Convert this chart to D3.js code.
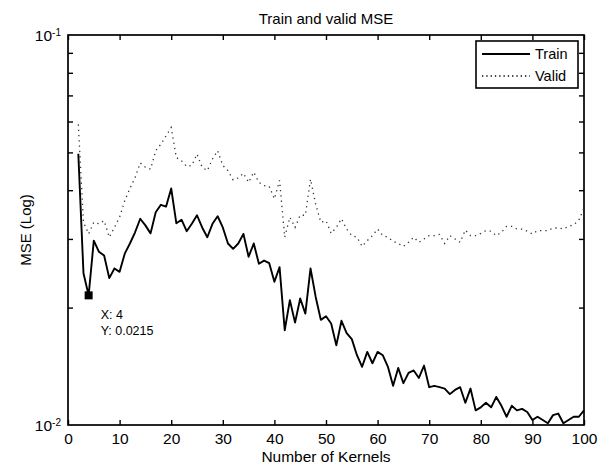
<!DOCTYPE html>
<html>
<head>
<meta charset="utf-8">
<script src="https://cdn.jsdelivr.net/npm/d3@7"></script>
<style>
  body { margin: 0; background: #fff; }
  svg { display: block; }
  text { font-family: "Liberation Sans", Arial, sans-serif; fill: #000; }
</style>
</head>
<body>
<svg></svg>
<script>
let width = 604, height = 464;

// number of kernels (x)
var kernels = [2,3,4,5,6,7,8,9,10,11,12,13,14,15,16,17,18,19,20,21,22,23,24,25,26,27,28,29,30,
  31,32,33,34,35,36,37,38,39,40,41,42,43,44,45,46,47,48,49,50,51,52,53,54,55,56,57,58,59,60,
  61,62,63,64,65,66,67,68,69,70,71,72,73,74,75,76,77,78,79,80,81,82,83,84,85,86,87,88,89,90,
  91,92,93,94,95,96,97,98,99,100];

var trainMSE = [0.0496,0.0245,0.0215,0.0297,0.0278,0.0272,0.0238,0.0252,0.0247,0.0275,
  0.0292,0.0312,0.0338,0.0325,0.0310,0.0351,0.0367,0.0363,0.0404,0.0329,
  0.0336,0.0314,0.0328,0.0345,0.0321,0.0303,0.0328,0.0343,0.0321,0.0292,
  0.0283,0.0292,0.0309,0.0270,0.0292,0.0259,0.0264,0.0260,0.0233,0.0254,
  0.0175,0.0209,0.0183,0.0211,0.0193,0.0252,0.0213,0.0186,0.0190,0.0182,
  0.0160,0.0185,0.0172,0.0166,0.0151,0.0141,0.0154,0.0144,0.0154,0.0151,
  0.0141,0.0126,0.0140,0.0128,0.0136,0.0138,0.0132,0.0142,0.0125,0.0126,
  0.0125,0.0124,0.0120,0.0123,0.0125,0.0114,0.0124,0.0109,0.0111,0.0114,
  0.0111,0.0118,0.0112,0.0105,0.0112,0.0109,0.0110,0.0108,0.0103,0.0105,
  0.0103,0.0101,0.0106,0.0107,0.0101,0.0103,0.0105,0.0105,0.0109];

var validMSE = [0.0590,0.0331,0.0309,0.0331,0.0328,0.0334,0.0303,0.0321,0.0341,0.0376,
  0.0404,0.0431,0.0470,0.0458,0.0453,0.0505,0.0525,0.0551,0.0579,0.0485,
  0.0476,0.0460,0.0463,0.0495,0.0458,0.0449,0.0481,0.0505,0.0463,0.0449,
  0.0425,0.0430,0.0442,0.0419,0.0445,0.0419,0.0411,0.0409,0.0380,0.0424,
  0.0303,0.0341,0.0321,0.0345,0.0345,0.0427,0.0368,0.0331,0.0334,0.0310,
  0.0321,0.0338,0.0318,0.0306,0.0303,0.0287,0.0297,0.0306,0.0318,0.0306,
  0.0303,0.0296,0.0292,0.0287,0.0294,0.0303,0.0294,0.0300,0.0306,0.0306,
  0.0308,0.0292,0.0306,0.0300,0.0294,0.0316,0.0306,0.0306,0.0310,0.0315,
  0.0314,0.0306,0.0312,0.0323,0.0323,0.0318,0.0318,0.0314,0.0309,0.0315,
  0.0315,0.0315,0.0320,0.0320,0.0318,0.0323,0.0326,0.0335,0.0360];

var xTicks = [0,10,20,30,40,50,60,70,80,90,100];
var yMinorTicks = [0.02,0.03,0.04,0.05,0.06,0.07,0.08,0.09];
var yMajorTicks = [0.01, 0.1];
var yMajorExp = ["-2", "-1"];

var tipX = 4, tipY = 0.0215;

let svg = d3.select("svg")
  .attr("width", width)
  .attr("height", height);

let mLeft = 68, mRight = 584, mTop = 35, mBottom = 425;

var x = d3.scaleLinear().domain([0, 100]).range([mLeft, mRight]);
var y = d3.scaleLog().domain([0.01, 0.1]).range([mBottom, mTop]);

// bottom axis
svg.append("g")
  .attr("transform", "translate(0," + mBottom + ")")
  .call(d3.axisBottom(x).tickValues(xTicks).tickSizeInner(-5).tickSizeOuter(0).tickPadding(8))
  .call(g => g.select(".domain").remove())
  .call(g => g.selectAll("text").attr("font-size", 15.5).attr("font-family", null))
  .call(g => g.selectAll("line").attr("stroke-width", 1.4));

// top axis
svg.append("g")
  .attr("transform", "translate(0," + mTop + ")")
  .call(d3.axisTop(x).tickValues(xTicks).tickSizeInner(-5).tickSizeOuter(0).tickFormat(""))
  .call(g => g.select(".domain").remove())
  .call(g => g.selectAll("line").attr("stroke-width", 1.4));

// left axis
svg.append("g")
  .attr("transform", "translate(" + mLeft + ",0)")
  .call(d3.axisLeft(y).tickValues(yMinorTicks).tickSizeInner(-5).tickSizeOuter(0).tickFormat(""))
  .call(g => g.select(".domain").remove())
  .call(g => g.selectAll("line").attr("stroke-width", 1.4));

// right axis
svg.append("g")
  .attr("transform", "translate(" + mRight + ",0)")
  .call(d3.axisRight(y).tickValues(yMinorTicks).tickSizeInner(-5).tickSizeOuter(0).tickFormat(""))
  .call(g => g.select(".domain").remove())
  .call(g => g.selectAll("line").attr("stroke-width", 1.4));

// 10^-1 and 10^-2 labels
var ylab = svg.append("g")
  .attr("transform", "translate(" + mLeft + ",0)")
  .call(d3.axisLeft(y).tickValues(yMajorTicks).tickSize(0).tickPadding(7).tickFormat(""))
  .call(g => g.select(".domain").remove());
ylab.selectAll(".tick text")
  .attr("font-size", 15.5)
  .attr("font-family", null)
  .attr("dy", "0.35em")
  .each(function(d, i) {
    var t = d3.select(this);
    t.append("tspan").text("10");
    t.append("tspan").attr("dy", "-0.5em").attr("font-size", 10).text(yMajorExp[i]);
  });

// frame
svg.append("rect")
  .attr("x", mLeft).attr("y", mTop)
  .attr("width", mRight - mLeft).attr("height", mBottom - mTop)
  .attr("fill", "none").attr("stroke", "#000").attr("stroke-width", 1.7);

var line = d3.line()
  .x((d, i) => x(kernels[i]))
  .y(d => y(d));

svg.append("path")
  .datum(validMSE)
  .attr("d", line)
  .attr("fill", "none")
  .attr("stroke", "#333")
  .attr("stroke-width", 1.3)
  .attr("stroke-dasharray", "1.3,4");

svg.append("path")
  .datum(trainMSE)
  .attr("d", line)
  .attr("fill", "none")
  .attr("stroke", "#000")
  .attr("stroke-width", 1.9)
  .attr("stroke-linejoin", "round");

// data tip
svg.append("rect")
  .attr("x", x(tipX) - 4).attr("y", y(tipY) - 4)
  .attr("width", 8).attr("height", 8)
  .attr("fill", "#000");

svg.append("text")
  .attr("x", x(tipX) + 12).attr("y", y(tipY) + 24)
  .attr("font-size", 12.5)
  .text("X: " + tipX);
svg.append("text")
  .attr("x", x(tipX) + 12).attr("y", y(tipY) + 40)
  .attr("font-size", 12.5)
  .text("Y: " + tipY);

// title and labels
svg.append("text")
  .attr("x", (mLeft + mRight) / 2).attr("y", 24)
  .attr("text-anchor", "middle").attr("font-size", 15)
  .text("Train and valid MSE");

svg.append("text")
  .attr("x", (mLeft + mRight) / 2).attr("y", 462)
  .attr("text-anchor", "middle").attr("font-size", 15.5)
  .text("Number of Kernels");

svg.append("text")
  .attr("transform", "translate(31," + ((mTop + mBottom) / 2) + ") rotate(-90)")
  .attr("text-anchor", "middle").attr("font-size", 15)
  .text("MSE (Log)");

// legend
var lg = svg.append("g").attr("transform", "translate(476,41)");
lg.append("rect")
  .attr("width", 102).attr("height", 47)
  .attr("fill", "#fff").attr("stroke", "#000").attr("stroke-width", 1.6);
var legendItems = [
  {name: "Train", dash: null, w: 1.9},
  {name: "Valid", dash: "1.3,3", w: 1.3}
];
legendItems.forEach((d, i) => {
  var ly = 13 + i * 22;
  lg.append("line")
    .attr("x1", 6).attr("x2", 54).attr("y1", ly).attr("y2", ly)
    .attr("stroke", "#000").attr("stroke-width", d.w)
    .attr("stroke-dasharray", d.dash);
  lg.append("text")
    .attr("x", 59).attr("y", ly + 5)
    .attr("font-size", 14.5)
    .text(d.name);
});
</script>
</body>
</html>
